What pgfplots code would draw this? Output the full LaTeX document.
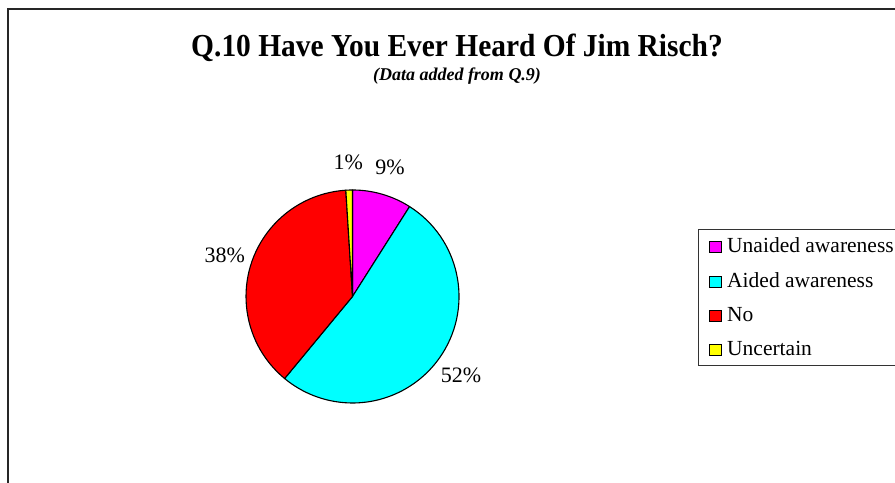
\documentclass[border=0pt]{standalone}
\usepackage{pgfplots}
\pgfplotsset{compat=1.18}
\usepackage{pgfplotstable}
\usepackage{fontspec}
\setmainfont{Liberation Serif}
\usepackage{graphicx}

\definecolor{pmag}{RGB}{255,0,255}
\definecolor{pcya}{RGB}{0,255,255}
\definecolor{pred}{RGB}{255,0,0}
\definecolor{pyel}{RGB}{255,255,0}

\pgfplotstableread{
label value col
Unaided 9 pmag
Aided 52 pcya
No 38 pred
Uncertain 1 pyel
}\piedata

\newcommand\lblfont{\fontsize{22bp}{24bp}\selectfont}
\newcommand\legfont{\fontsize{21.5bp}{24bp}\selectfont}

\begin{document}
\begin{tikzpicture}[x=1bp,y=1bp]
\useasboundingbox (0,0) rectangle (895,483);
\clip (0,0) rectangle (895,483);
% chart frame
\draw[line width=1.6bp, black!85] (8,-10) -- (8,474) -- (910,474);
% title
\node[anchor=base, inner sep=0pt] at (457,426)
  {\scalebox{0.92}[1]{\fontsize{32bp}{36bp}\selectfont\bfseries Q.10 Have You Ever Heard Of Jim Risch?}};
\node[anchor=base, inner sep=0pt] at (457,402)
  {\fontsize{18bp}{20bp}\selectfont\bfseries\itshape (Data added from Q.9)};

\begin{axis}[
  x=106.5bp, y=106.5bp,
  xmin=-1, xmax=1, ymin=-1, ymax=1,
  hide axis, clip=false,
  at={(352.5bp,186.5bp)}, anchor=center,
]
\pgfplotstablegetrowsof{\piedata}
\pgfmathtruncatemacro\N{\pgfplotsretval-1}
\def\cum{0}
\pgfplotsforeachungrouped \i in {0,...,\N}{%
  \pgfplotstablegetelem{\i}{value}\of\piedata \let\v\pgfplotsretval
  \pgfplotstablegetelem{\i}{col}\of\piedata \let\c\pgfplotsretval
  \pgfmathsetmacro\a{90-3.6*\cum}%
  \pgfmathsetmacro\b{90-3.6*(\cum+\v)}%
  \pgfmathsetmacro\m{(\a+\b)/2}%
  \pgfmathsetmacro\cx{cos(\a)}%
  \pgfmathsetmacro\cy{sin(\a)}%
  \pgfmathsetmacro\lx{1.26*cos(\m)}%
  \pgfmathsetmacro\ly{1.26*sin(\m)}%
  \edef\tmp{%
    \noexpand\filldraw[fill=\c, draw=black, line width=1.1bp, line join=round]
      (axis cs:0,0) -- (axis cs:\cx,\cy) arc[start angle=\a, end angle=\b, radius=106.5bp] -- cycle;
    \noexpand\node[inner sep=0pt, font=\noexpand\lblfont] at (axis cs:\lx,\ly) {\v\noexpand\%};
  }%
  \tmp
  \pgfmathsetmacro\cum{\cum+\v}%
}
\end{axis}

% legend
\draw[line width=0.8bp, black!80] (698.5,118) rectangle (910,254);
\foreach \yy/\cc/\tt in {230/pmag/Unaided awareness, 195/pcya/Aided awareness, 161/pred/No, 127/pyel/Uncertain}{
  \filldraw[fill=\cc, draw=black, line width=0.9bp] (709,\yy+1) rectangle (721,\yy+12);
  \node[anchor=base west, inner sep=0pt, font=\legfont] at (727,\yy) {\tt};
}
\end{tikzpicture}
\end{document}
